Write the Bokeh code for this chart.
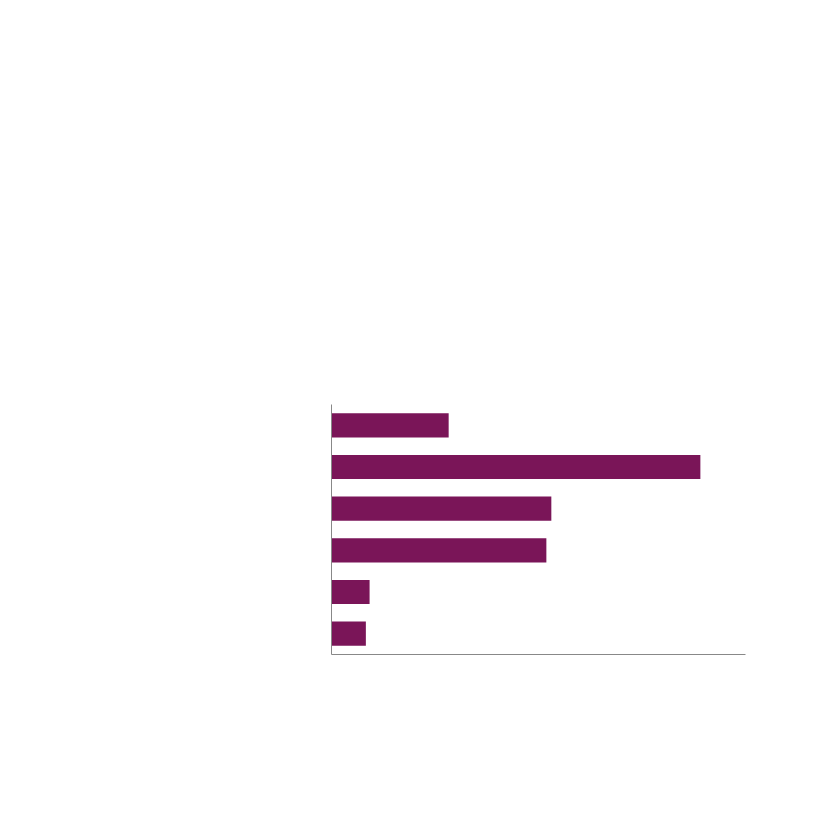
from bokeh.plotting import figure
from bokeh.models import Range1d
from bokeh.embed import file_html
from bokeh.resources import INLINE

categories = ["A", "B", "C", "D", "E", "F"]
values = [28.3, 89.1, 53.1, 51.9, 9.2, 8.3]

p = figure(
    y_range=list(reversed(categories)),
    x_range=Range1d(0, 100),
    frame_width=414,
    frame_height=250,
    min_border_left=331,
    min_border_top=404,
    min_border_right=50,
    min_border_bottom=140,
    output_backend="svg",
    toolbar_location=None,
)
p.hbar(y=categories, right=values, left=0, height=0.58,
       fill_color="#7a1558", line_color=None)

p.xgrid.visible = False
p.ygrid.visible = False
p.outline_line_color = None
for ax in (p.xaxis, p.yaxis):
    ax.axis_line_color = "#888888"
    ax.axis_line_width = 1
    ax.major_tick_line_color = None
    ax.minor_tick_line_color = None
    ax.major_label_text_font_size = "0px"
    ax.major_label_text_alpha = 0
p.xaxis.ticker = []
p.background_fill_color = "white"
p.border_fill_color = "white"

open("out.html", "w").write(file_html(p, INLINE))
